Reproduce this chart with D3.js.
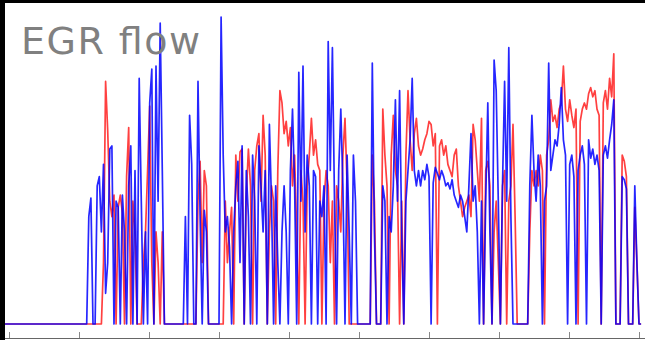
<!DOCTYPE html>
<html>
<head>
<meta charset="utf-8">
<script src="https://cdn.jsdelivr.net/npm/d3@7"></script>
<style>
  body { margin: 0; background: #fff; }
  svg { display: block; }
</style>
</head>
<body>
<div id="chart-area"></div>
<script>

// samples every 6 s, first sample at -12 s
var sampleStart = -12,
    sampleStep = 6;

var tickTimes = [0, 200, 400, 600, 800, 1000, 1200, 1400, 1600, 1800];

var egrRed = [
    0,0,0,0,0,0,0,0,0,0,
    0,0,0,0,0,0,0,0,0,0,
    0,0,0,0,0,0,0,0,0,0,
    0,0,0,0,0,0,0,0,0,0,
    0,0,0,0,0,0,0,20,79,63,
    40,35,42,0,38,42,36,0,48,64,
    0,40,30,0,0,0,20,30,50,71,
    20,0,30,20,0,30,0,0,0,0,
    0,0,0,0,0,0,0,0,0,0,
    0,0,40,53,20,50,45,0,0,0,
    0,0,0,0,0,40,20,30,38,0,
    55,40,56,57,0,42,57,45,0,50,
    58,62,40,68,55,0,30,45,40,0,
    50,76,72,62,66,58,64,45,55,30,
    0,50,40,0,45,55,67,55,60,52,
    50,0,40,50,45,20,40,0,45,40,
    30,55,67,45,0,0,0,0,0,0,
    0,0,0,0,0,55,40,0,0,0,
    70,55,45,0,55,68,50,45,0,40,
    0,55,76,60,50,62,67,58,55,57,
    60,62,66,65,58,62,0,58,60,55,
    58,52,50,48,55,57,45,40,35,38,
    40,42,35,65,60,50,40,67,0,50,
    53,45,0,30,40,20,0,45,50,0,
    40,45,65,35,0,0,0,0,0,0,
    30,50,45,50,45,55,50,0,55,60,
    73,66,68,64,70,72,84,70,66,73,
    68,64,70,0,66,70,72,70,75,77,
    74,76,70,68,0,72,76,70,80,74,
    88,0,0,0,55,53,48,0,0,0,
    38,20,0,0
];

var egrBlue = [
    0,0,0,0,0,0,0,0,0,0,
    0,0,0,0,0,0,0,0,0,0,
    0,0,0,0,0,0,0,0,0,0,
    0,0,0,0,0,0,0,0,0,0,
    35,41,0,0,45,48,30,52,10,20,
    57,58,0,40,38,0,42,30,0,45,
    58,0,50,0,80,40,0,30,0,72,
    83,0,84,40,98,50,0,0,0,0,
    0,0,0,0,0,0,35,0,68,52,
    0,0,79,35,0,37,30,0,0,0,
    0,0,0,100,55,30,35,25,0,30,
    45,53,20,58,0,50,35,0,55,40,
    0,58,45,30,50,0,65,40,0,45,
    20,0,30,45,30,0,50,70,45,0,
    82,40,84,30,55,45,0,50,48,0,
    40,35,45,0,92,50,90,40,0,50,
    70,45,0,55,30,0,55,40,0,0,
    0,0,0,0,0,85,30,0,0,0,
    45,40,0,35,30,45,73,40,76,30,
    0,40,50,60,80,50,45,50,45,50,
    47,52,48,0,46,51,49,47,50,48,
    45,46,44,47,42,40,38,42,40,35,
    30,45,62,40,45,30,0,40,0,40,
    72,30,0,86,76,40,0,45,79,40,
    90,35,0,0,0,0,0,0,0,0,
    45,68,50,40,55,45,0,40,45,85,
    50,55,60,58,65,77,60,55,0,52,
    55,48,0,50,55,58,52,0,60,54,
    57,52,55,50,0,55,58,54,60,65,
    73,0,0,0,48,47,44,0,0,0,
    45,20,0,0
];

var width = 645,
    height = 340;

var svg = d3.select("#chart-area").append("svg")
    .attr("width", width)
    .attr("height", height);

svg.append("rect")
    .attr("width", width)
    .attr("height", height)
    .attr("fill", "#fff");

var x = d3.scaleLinear()
    .domain([0, 1800])
    .range([9, 639]);

var y = d3.scaleLinear()
    .domain([0, 100])
    .range([324, 17]);

var line = d3.line()
    .x(function (d, i) { return x(sampleStart + i * sampleStep); })
    .y(function (d) { return y(d); });

svg.append("path")
    .datum(egrRed)
    .attr("fill", "none")
    .attr("stroke", "#ff0000")
    .attr("stroke-opacity", 0.75)
    .attr("stroke-width", 1.7)
    .attr("stroke-linejoin", "round")
    .attr("d", line);

svg.append("path")
    .datum(egrBlue)
    .attr("fill", "none")
    .attr("stroke", "#0000ff")
    .attr("stroke-opacity", 0.85)
    .attr("stroke-width", 1.7)
    .attr("stroke-linejoin", "round")
    .attr("d", line);

// bottom axis, labels fall outside the picture
var xAxis = d3.axisBottom(x)
    .tickValues(tickTimes)
    .tickSizeOuter(0)
    .tickFormat("");

var axisG = svg.append("g")
    .attr("transform", "translate(0,338)")
    .call(xAxis.tickSize(-6));

axisG.select(".domain")
    .attr("d", "M5,0.5H645")
    .attr("stroke", "#666");
axisG.selectAll(".tick line")
    .attr("stroke", "#888");

svg.append("text")
    .attr("x", 21)
    .attr("y", 54)
    .attr("font-family", "DejaVu Sans")
    .attr("font-size", 38)
    .attr("textLength", 179)
    .attr("lengthAdjust", "spacing")
    .attr("fill", "#808080")
    .text("EGR flow");

// black frame edges
svg.append("rect")
    .attr("x", 0).attr("y", 0)
    .attr("width", width).attr("height", 3)
    .attr("fill", "#000");
svg.append("rect")
    .attr("x", 0).attr("y", 0)
    .attr("width", 5).attr("height", height)
    .attr("fill", "#000");

</script>
</body>
</html>
